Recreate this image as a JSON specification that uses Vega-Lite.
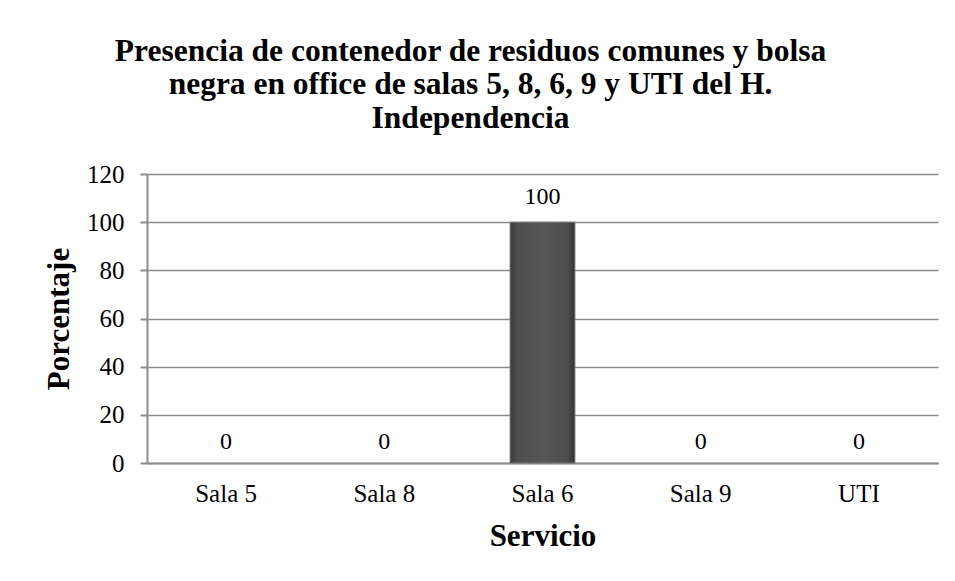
{
  "$schema": "https://vega.github.io/schema/vega-lite/v6.json",
  "width": 791,
  "height": 289,
  "autosize": {"type": "none"},
  "padding": {"left": 147, "top": 174, "right": 17, "bottom": 118},
  "background": "white",
  "title": {
    "text": ["Presencia de contenedor de residuos comunes y bolsa", "negra en office de salas 5, 8, 6, 9 y UTI del H.", "Independencia"],
    "font": "Liberation Serif",
    "fontSize": 31.5,
    "fontWeight": "bold",
    "color": "black",
    "lineHeight": 33.5,
    "anchor": "middle",
    "frame": "group",
    "dx": -72,
    "offset": 28
  },
  "data": {
    "values": [
      {"Servicio": "Sala 5", "Porcentaje": 0},
      {"Servicio": "Sala 8", "Porcentaje": 0},
      {"Servicio": "Sala 6", "Porcentaje": 100},
      {"Servicio": "Sala 9", "Porcentaje": 0},
      {"Servicio": "UTI", "Porcentaje": 0}
    ]
  },
  "encoding": {
    "x": {
      "field": "Servicio",
      "type": "nominal",
      "sort": ["Sala 5", "Sala 8", "Sala 6", "Sala 9", "UTI"],
      "scale": {"domain": ["Sala 5", "Sala 8", "Sala 6", "Sala 9", "UTI"], "paddingInner": 0.59, "paddingOuter": 0.295},
      "axis": {
        "title": "Servicio",
        "labelAngle": 0,
        "ticks": false,
        "labelPadding": 18,
        "titlePadding": 15,
        "domainColor": "#8c8c8c",
        "domainWidth": 2
      }
    },
    "y": {
      "field": "Porcentaje",
      "type": "quantitative",
      "scale": {"domain": [0, 120]},
      "axis": {
        "title": "Porcentaje",
        "values": [0, 20, 40, 60, 80, 100, 120],
        "tickSize": 7,
        "labelPadding": 16,
        "titlePadding": 11,
        "domainColor": "#8c8c8c",
        "domainWidth": 2,
        "tickColor": "#8c8c8c",
        "tickWidth": 2,
        "grid": true,
        "gridColor": "#8c8c8c",
        "gridWidth": 1.5
      }
    }
  },
  "layer": [
    {
      "transform": [{"filter": "datum.Porcentaje > 0"}],
      "mark": {
        "type": "bar",
        "color": {
          "gradient": "linear",
          "x1": 0, "x2": 1, "y1": 0, "y2": 0,
          "stops": [
            {"offset": 0, "color": "#3a3a3a"},
            {"offset": 0.12, "color": "#4e4e4e"},
            {"offset": 0.5, "color": "#565656"},
            {"offset": 0.88, "color": "#4e4e4e"},
            {"offset": 1, "color": "#333333"}
          ]
        },
        "stroke": "#777777",
        "strokeWidth": 1
      }
    },
    {
      "transform": [{"filter": "datum.Porcentaje > 0"}],
      "mark": {
        "type": "text",
        "font": "Liberation Serif",
        "fontSize": 24,
        "color": "black",
        "baseline": "alphabetic",
        "dy": -18
      },
      "encoding": {
        "text": {"field": "Porcentaje", "type": "quantitative"}
      }
    },
    {
      "transform": [{"filter": "datum.Porcentaje == 0"}],
      "mark": {
        "type": "text",
        "font": "Liberation Serif",
        "fontSize": 24,
        "color": "black",
        "baseline": "alphabetic",
        "dy": -14
      },
      "encoding": {
        "text": {"field": "Porcentaje", "type": "quantitative"}
      }
    }
  ],
  "config": {
    "view": {"stroke": null},
    "axis": {
      "labelFont": "Liberation Serif",
      "labelFontSize": 25,
      "labelColor": "black",
      "titleFont": "Liberation Serif",
      "titleFontSize": 31,
      "titleFontWeight": "bold",
      "titleColor": "black"
    }
  }
}
